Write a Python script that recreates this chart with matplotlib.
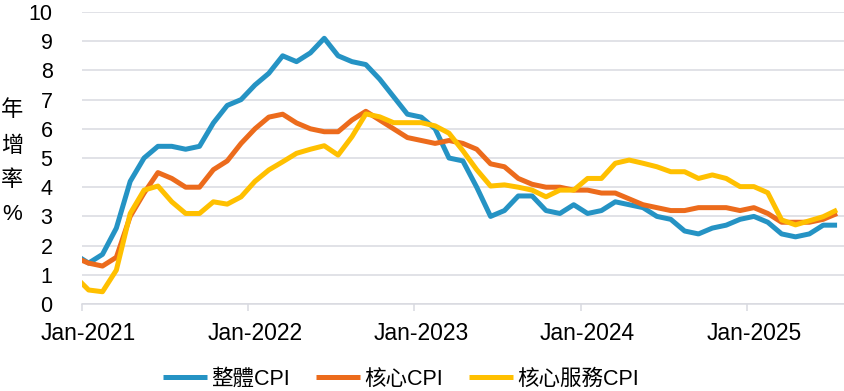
import numpy as np
import pandas as pd
import matplotlib
matplotlib.use('Agg')
import matplotlib.pyplot as plt

# Datos mensuales (Dec-2020 ... Jul-2025), % a/a
meses = pd.date_range('2020-12-01', '2025-07-01', freq='MS')

cpi_total = [1.7,
             1.4, 1.7, 2.6, 4.2, 5.0, 5.4, 5.4, 5.3, 5.4, 6.2, 6.8, 7.0,
             7.5, 7.9, 8.5, 8.3, 8.6, 9.1, 8.5, 8.3, 8.2, 7.7, 7.1, 6.5,
             6.4, 6.0, 5.0, 4.9, 4.0, 3.0, 3.2, 3.7, 3.7, 3.2, 3.1, 3.4,
             3.1, 3.2, 3.5, 3.4, 3.3, 3.0, 2.9, 2.5, 2.4, 2.6, 2.7, 2.9,
             3.0, 2.8, 2.4, 2.3, 2.4, 2.7, 2.7]

cpi_core = [1.6,
            1.4, 1.3, 1.6, 3.0, 3.8, 4.5, 4.3, 4.0, 4.0, 4.6, 4.9, 5.5,
            6.0, 6.4, 6.5, 6.2, 6.0, 5.9, 5.9, 6.3, 6.6, 6.3, 6.0, 5.7,
            5.6, 5.5, 5.6, 5.5, 5.3, 4.8, 4.7, 4.3, 4.1, 4.0, 4.0, 3.9,
            3.9, 3.8, 3.8, 3.6, 3.4, 3.3, 3.2, 3.2, 3.3, 3.3, 3.3, 3.2,
            3.3, 3.1, 2.8, 2.8, 2.8, 2.9, 3.1]

cpi_core_serv = [0.95,
                 0.48, 0.42, 1.16, 3.1, 3.9, 4.04, 3.5, 3.1, 3.1, 3.5, 3.42, 3.67,
                 4.2, 4.59, 4.87, 5.16, 5.3, 5.42, 5.1, 5.73, 6.51, 6.41, 6.21, 6.21,
                 6.21, 6.1, 5.85, 5.25, 4.6, 4.04, 4.08, 4.0, 3.9, 3.67, 3.9, 3.9,
                 4.3, 4.3, 4.82, 4.93, 4.82, 4.7, 4.53, 4.53, 4.3, 4.42, 4.3, 4.02,
                 4.02, 3.81, 2.88, 2.71, 2.85, 2.99, 3.22]

nombres = ['整體CPI', '核心CPI', '核心服務CPI']
colores = ['#2593c4', '#ec6b1c', '#ffc000']

# Posición: meses desde Jan-2021, punto en medio del mes
x = np.arange(len(meses)) - 1 + 0.5

fuentes = ['Liberation Sans', 'Noto Sans CJK TC', 'DejaVu Sans']
plt.rcParams['font.family'] = fuentes

fig = plt.figure(figsize=(8.44, 3.91), dpi=100)
ax = fig.add_axes([0.0968, 0.2225, 0.9032, 0.7468])

gris = '#d9dae0'
for v in range(0, 11):
    ax.axhline(v, color=gris, lw=1.1, zorder=1)

for serie, nombre, color in zip([cpi_total, cpi_core, cpi_core_serv], nombres, colores):
    ax.plot(x, serie, color=color, lw=3.6, label=nombre, zorder=3,
            solid_joinstyle='round', solid_capstyle='butt')

ax.set_xlim(0, 55)
ax.set_ylim(0, 10)

for s in ['top', 'right', 'left']:
    ax.spines[s].set_visible(False)
ax.spines['bottom'].set_color(gris)
ax.spines['bottom'].set_linewidth(1.1)

ax.set_yticks(range(0, 11))
ax.set_yticklabels([str(v) for v in range(0, 11)], fontsize=15.5, color='#000000')
ax.tick_params(axis='y', length=0, pad=21)

# ticks mayores en enero, etiquetas a mitad de enero
anios = [2021, 2022, 2023, 2024, 2025]
ax.set_xticks([12 * i for i in range(len(anios))])
ax.set_xticklabels([])
ax.tick_params(axis='x', which='major', length=5, width=1.1, color=gris, direction='out')
ax.set_xticks([12 * i + 0.5 for i in range(len(anios))], minor=True)
ax.set_xticklabels([f'Jan-{a}' for a in anios], minor=True, fontsize=16.5)
ax.tick_params(axis='x', which='minor', length=0, pad=13)

# rótulo vertical del eje y
for txt, yc in [('年', 111), ('增', 147), ('率', 181), ('%', 214)]:
    fig.text(12 / 844, 1 - yc / 391, txt, fontsize=16, ha='center', va='center',
             color='#000000')

fig.legend(loc='center', bbox_to_anchor=(0.475, 0.030), ncol=3, frameon=False,
           fontsize=15.5, handlelength=2.05, handletextpad=0.2, columnspacing=1.2)

fig.savefig('out.png', dpi=100)
